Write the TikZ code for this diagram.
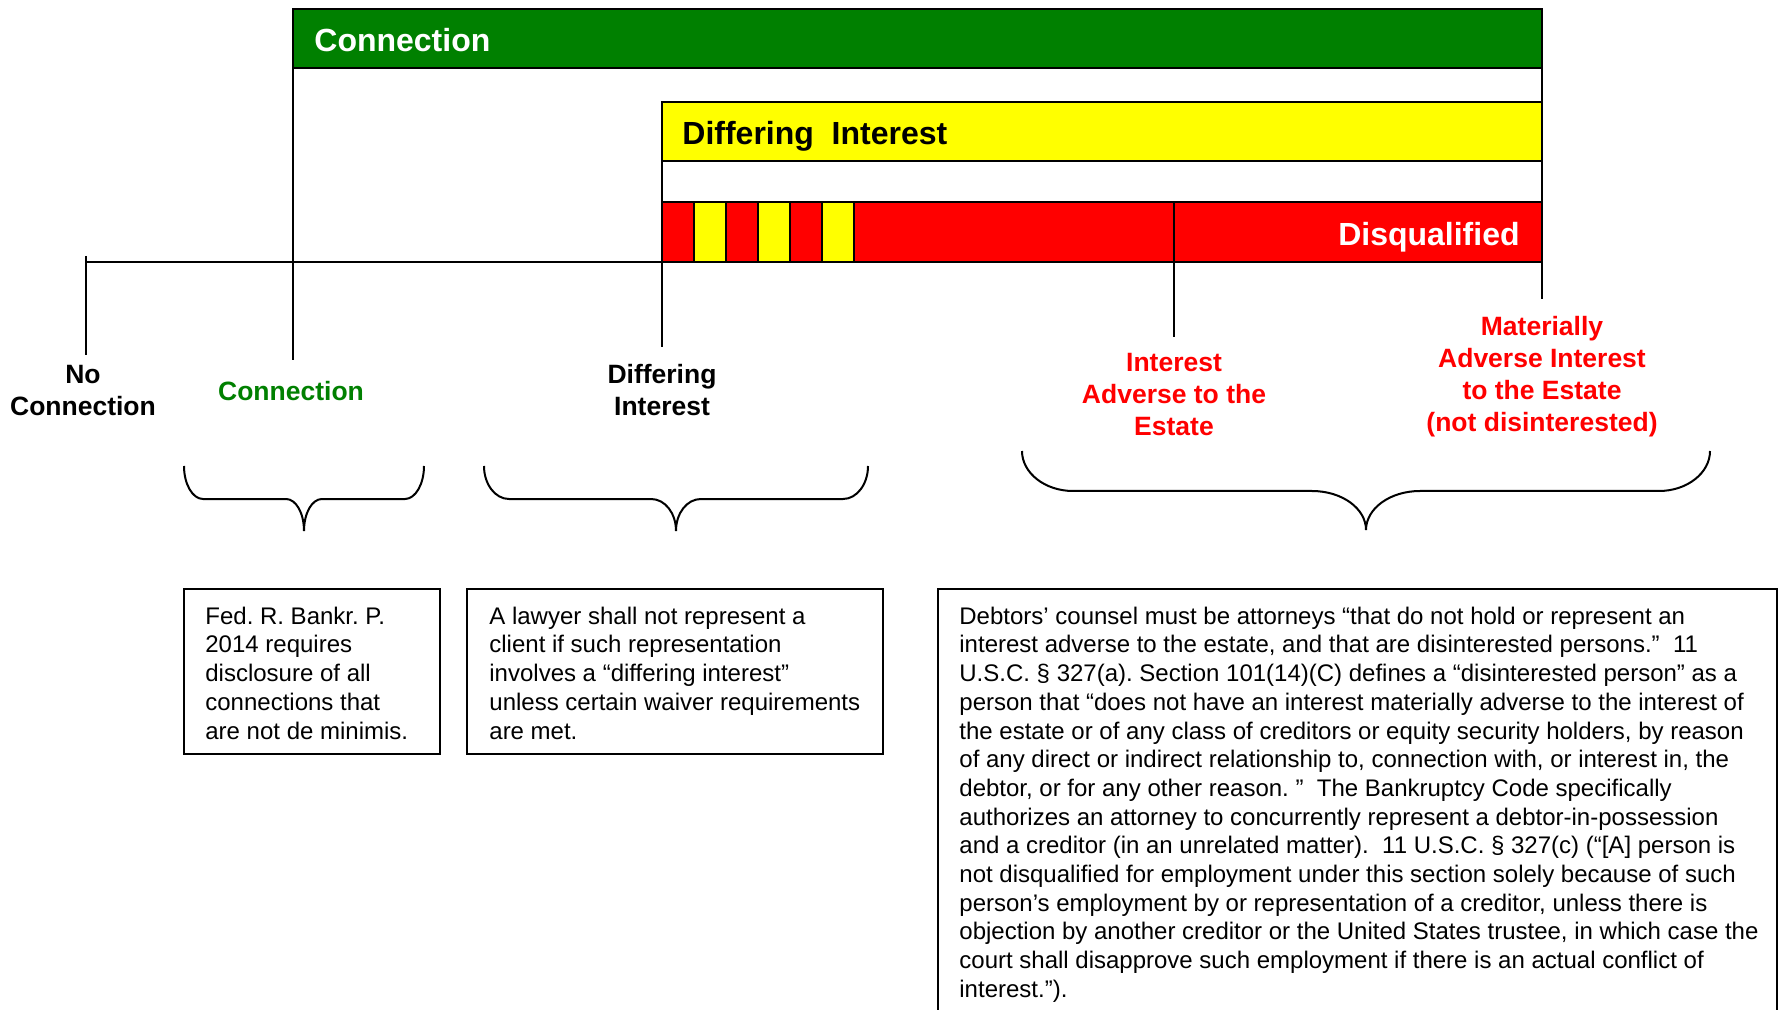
\documentclass[tikz,border=0pt]{standalone}
\usepackage{fontspec}
\setmainfont{Liberation Sans}
\usetikzlibrary{positioning}
\definecolor{conngreen}{RGB}{0,128,0}
\definecolor{diffyellow}{RGB}{255,255,0}
\definecolor{disqred}{RGB}{255,0,0}
\frenchspacing

\begin{document}
\begin{tikzpicture}[x=0.5pt,y=-0.5pt,
    bar/.style={draw=black,line width=1pt},
    tick/.style={line width=0.85pt},
    bartext/.style={font=\bfseries\fontsize{16}{19}\selectfont,inner sep=0pt},
    marklabel/.style={font=\bfseries\fontsize{13.25}{16}\selectfont,align=center,inner sep=0pt},
    notetext/.style={font=\fontsize{12}{14.35}\selectfont,align=left,inner sep=0pt,anchor=north west},
    notebox/.style={draw=black,line width=0.9pt},
    curly/.style={line width=1pt}]
  \useasboundingbox (0,0) rectangle (1783,1010);
  % bars
  \draw[bar,fill=conngreen] (293,9) rectangle (1542,68);
  \draw[bar,fill=diffyellow] (662,102) rectangle (1542,161);
  \draw[bar,fill=disqred] (662,202) rectangle (1542,262);
  \foreach \x in {694,758,822}
    \draw[bar,fill=diffyellow] (\x,202) rectangle ++(32,60);
  \draw[bar] (854,202) -- (854,262);
  \draw[bar] (1174,202) -- (1174,262);
  \node[bartext,text=white,anchor=base west] (connbar) at (314,52) {Connection};
  \node[bartext,anchor=base west] (diffbar) at (682,144.5) {Differing\ \ Interest};
  \node[bartext,text=white,anchor=base east] (disqbar) at (1520,245.5) {Disqualified};
  % scale line and ticks
  \draw[bar] (86,262) -- (662,262);
  \draw[tick] (86,256) -- (86,355);
  \draw[tick] (293,68) -- (293,360);
  \draw[tick] (662,161) -- (662,347);
  \draw[tick] (1174,262) -- (1174,337);
  \draw[tick] (1542,9) -- (1542,299);
  % tick labels
  \node[marklabel] (nocon) at (83,391) {No\\Connection};
  \node[marklabel,text=conngreen] (conn) at (291,391) {Connection};
  \node[marklabel] (diff) at (662,390.5) {Differing\\Interest};
  \node[marklabel,text=disqred] (adverse) at (1174,395) {Interest\\Adverse to the\\Estate};
  \node[marklabel,text=disqred] (matadverse) at (1542,376.5) {Materially\\Adverse Interest\\to the Estate\\(not disinterested)};
  % braces
  \draw[curly] (184,466) .. controls (184,484) and (192.5,499) .. (203,499) -- (286,499)
    .. controls (296,499) and (304,513) .. (304,531)
    .. controls (304,513) and (312,499) .. (322,499) -- (405,499)
    .. controls (415.5,499) and (424,484) .. (424,466);
  \draw[curly] (484,466) .. controls (484,484) and (495,499) .. (509,499) -- (651,499)
    .. controls (665,499) and (676,513) .. (676,531)
    .. controls (676,513) and (687,499) .. (701,499) -- (843,499)
    .. controls (857,499) and (868,484) .. (868,466);
  \draw[curly] (1022,451) .. controls (1022,473) and (1045,491) .. (1073,491) -- (1312,491)
    .. controls (1342,491) and (1366,508.5) .. (1366,530)
    .. controls (1366,508.5) and (1390,491) .. (1420,491) -- (1659,491)
    .. controls (1687,491) and (1710,473) .. (1710,451);
  % notes
  \draw[notebox] (184,589) rectangle (440,754);
  \node[notetext] (fedrule) at (205,606.5) {Fed. R. Bankr. P.\\2014 requires\\disclosure of all\\connections that\\are not de minimis.};
  \draw[notebox] (467,589) rectangle (883,754);
  \node[notetext] (lawyer) at (489,606.5) {A lawyer shall not represent a\\client if such representation\\involves a “differing interest”\\unless certain waiver requirements\\are met.};
  \draw[notebox] (938,1012) -- (938,589) -- (1777,589) -- (1777,1012);
  \node[notetext] (counsel) at (959,606.5) {Debtors’ counsel must be attorneys “that do not hold or represent an\\
    interest adverse to the estate, and that are disinterested persons.”\ \ 11\\
    U.S.C. § 327(a). Section 101(14)(C) defines a “disinterested person” as a\\
    person that “does not have an interest materially adverse to the interest of\\
    the estate or of any class of creditors or equity security holders, by reason\\
    of any direct or indirect relationship to, connection with, or interest in, the\\
    debtor, or for any other reason. ”\ \ The Bankruptcy Code specifically\\
    authorizes an attorney to concurrently represent a debtor-in-possession\\
    and a creditor (in an unrelated matter).\ \ 11 U.S.C. § 327(c) (“[A] person is\\
    not disqualified for employment under this section solely because of such\\
    person’s employment by or representation of a creditor, unless there is\\
    objection by another creditor or the United States trustee, in which case the\\
    court shall disapprove such employment if there is an actual conflict of\\
    interest.”).};
\end{tikzpicture}
\end{document}
